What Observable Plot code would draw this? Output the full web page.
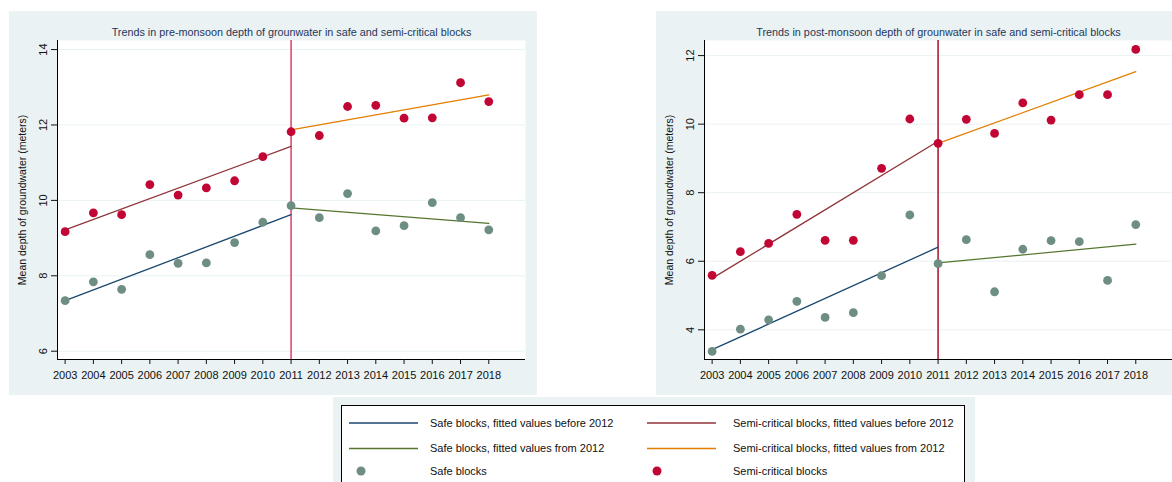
<!DOCTYPE html>
<html><head><meta charset="utf-8">
<script src="https://cdn.jsdelivr.net/npm/d3@7"></script>
<script src="https://cdn.jsdelivr.net/npm/@observablehq/plot@0.6"></script>
<style>
html,body{margin:0;padding:0;background:#fff;width:1172px;height:482px;overflow:hidden;position:relative;font-family:"Liberation Sans",Arial,sans-serif;}
.panel{position:absolute;}
.panel svg{display:block;}
</style></head><body>
<div id="left" class="panel" style="left:9px;top:11px"></div>
<div id="right" class="panel" style="left:656px;top:11px"></div>
<div id="legend" style="position:absolute;left:333px;top:397px"></div>
<script>
// ---- data ----
const years = [2003,2004,2005,2006,2007,2008,2009,2010,2011,2012,2013,2014,2015,2016,2017,2018];
const preSafe  = [7.34,7.84,7.64,8.56,8.33,8.34,8.88,9.42,9.86,9.54,10.18,9.19,9.33,9.94,9.54,9.22];
const preSemi  = [9.17,9.67,9.62,10.42,10.14,10.33,10.52,11.16,11.82,11.72,12.49,12.52,12.18,12.19,13.12,12.62];
const postSafe = [3.37,4.02,4.29,4.83,4.36,4.50,5.58,7.35,5.93,6.63,5.11,6.35,6.60,6.57,5.44,7.07];
const postSemi = [5.59,6.28,6.52,7.37,6.61,6.61,8.71,10.15,9.44,10.14,9.73,10.62,10.12,10.86,10.86,12.18];

const fitBeforeYears = [2003, 2011];
const fitFromYears   = [2011, 2018];
const preSafeFitBefore  = [7.34, 9.62];
const preSafeFitFrom    = [9.80, 9.39];
const preSemiFitBefore  = [9.22, 11.43];
const preSemiFitFrom    = [11.87, 12.80];
const postSafeFitBefore = [3.42, 6.41];
const postSafeFitFrom   = [5.95, 6.50];
const postSemiFitBefore = [5.50, 9.50];
const postSemiFitFrom   = [9.44, 11.53];

const breakYear = 2011;
const preTicks  = [6, 8, 10, 12, 14];
const postTicks = [4, 6, 8, 10, 12];
const preTitle  = "Trends in pre-monsoon depth of grounwater in safe and semi-critical blocks";
const postTitle = "Trends in post-monsoon depth of grounwater in safe and semi-critical blocks";
const yLabel = "Mean depth of groundwater (meters)";

const legendLabels = ["Safe blocks, fitted values before 2012","Semi-critical blocks, fitted values before 2012",
  "Safe blocks, fitted values from 2012","Semi-critical blocks, fitted values from 2012",
  "Safe blocks","Semi-critical blocks"];
const legendKinds = ["line","line","line","line","dot","dot"];

// ---- styles ----
const C = {navy:"#1a476f", maroon:"#90353b", green:"#55752f", orange:"#e37e00", teal:"#6e8e84", cranberry:"#c10534"};
const legendColors = [C.navy, C.maroon, C.green, C.orange, C.teal, C.cranberry];
const BG = "#eaf2f3";
const FONT = '"Liberation Sans", Arial, sans-serif';
const xDomain = [2002.73, 2019.30];

function panel({title, safe, semi, sFitB, sFitF, mFitB, mFitF, yDomain, yTicks, width, marginRight, vline}) {
  const pts = years.map((y,i)=>({year:y, safe:safe[i], semi:semi[i]}));
  const seg = (xs, vs) => xs.map((x,i)=>({year:x, v:vs[i]}));
  return Plot.plot({
    width, height:384, marginLeft:48, marginRight, marginTop:29, marginBottom:36,
    style:{background:BG, fontFamily:FONT, fontSize:"11px", color:"#111", overflow:"visible"},
    x:{domain:xDomain}, y:{domain:yDomain},
    marks:[
      Plot.frame({fill:"white", stroke:null}),
      Plot.ruleY(yTicks, {stroke:BG, strokeWidth:1}),
      Plot.ruleX([breakYear], {stroke:vline, strokeWidth:1.5}),
      Plot.line(seg(fitBeforeYears, sFitB), {x:"year", y:"v", stroke:C.navy, strokeWidth:1.3}),
      Plot.line(seg(fitBeforeYears, mFitB), {x:"year", y:"v", stroke:C.maroon, strokeWidth:1.3}),
      Plot.line(seg(fitFromYears, sFitF), {x:"year", y:"v", stroke:C.green, strokeWidth:1.3}),
      Plot.line(seg(fitFromYears, mFitF), {x:"year", y:"v", stroke:C.orange, strokeWidth:1.3}),
      Plot.dot(pts, {x:"year", y:"safe", fill:C.teal, r:4.4}),
      Plot.dot(pts, {x:"year", y:"semi", fill:C.cranberry, r:4.4}),
      Plot.ruleX([xDomain[0]], {stroke:"#000", strokeWidth:1}),
      Plot.ruleY([yDomain[0]], {stroke:"#000", strokeWidth:1}),
      Plot.axisX({ticks:years, tickFormat:d=>String(d), tickSize:5, tickPadding:7, label:null, fontSize:11}),
      Plot.axisY({ticks:yTicks, tickFormat:d=>String(d), tickSize:6, tickRotate:-90, tickPadding:5, label:null, fontSize:11}),
      Plot.text([yLabel], {frameAnchor:"left", dx:-35, rotate:-90, textAnchor:"middle", lineAnchor:"middle", fontSize:10.5, fill:"#111"}),
      Plot.text([title], {frameAnchor:"top", dy:-8, textAnchor:"middle", lineAnchor:"middle", fontSize:10.8, fill:"#26365a"})
    ]
  });
}

document.getElementById("left").append(panel({
  title:preTitle, safe:preSafe, semi:preSemi,
  sFitB:preSafeFitBefore, sFitF:preSafeFitFrom, mFitB:preSemiFitBefore, mFitF:preSemiFitFrom,
  yDomain:[5.78, 14.24], yTicks:preTicks, width:528, marginRight:12, vline:"#dc4068"
}));
document.getElementById("right").append(panel({
  title:postTitle, safe:postSafe, semi:postSemi,
  sFitB:postSafeFitBefore, sFitF:postSafeFitFrom, mFitB:postSemiFitBefore, mFitF:postSemiFitFrom,
  yDomain:[3.134, 12.44], yTicks:postTicks, width:516, marginRight:0, vline:"#a8102e"
}));

// ---- legend ----
const svg = d3.select("#legend").append("svg").attr("width", 642).attr("height", 85)
  .style("display","block").style("font-family", FONT);
svg.append("rect").attr("x",0).attr("y",0).attr("width",642).attr("height",85).attr("fill",BG);
svg.append("rect").attr("x",8.5).attr("y",8.5).attr("width",623).attr("height",100)
  .attr("fill","white").attr("stroke","#000").attr("stroke-width",1);
const rowY = [26, 51.5, 74];
const colX = [{line:16, dot:28, text:97}, {line:314, dot:324, text:400}];
legendLabels.forEach((lab, i) => {
  const c = colX[i % 2], y = rowY[Math.floor(i / 2)];
  if (legendKinds[i] === "line") {
    svg.append("line").attr("x1", c.line).attr("x2", c.line + 69).attr("y1", y).attr("y2", y)
      .attr("stroke", legendColors[i]).attr("stroke-width", 1.6);
  } else {
    svg.append("circle").attr("cx", c.dot).attr("cy", y).attr("r", 4.5).attr("fill", legendColors[i]);
  }
  svg.append("text").attr("x", c.text).attr("y", y).attr("dy", "0.35em")
    .attr("font-size", 11).attr("fill", "#111").text(lab);
});
</script>
</body></html>
